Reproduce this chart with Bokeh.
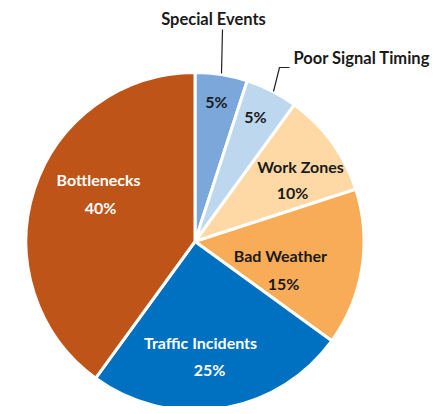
import numpy as np
from bokeh.plotting import figure
from bokeh.models import Range1d, ColumnDataSource
from bokeh.core.properties import value
from bokeh.embed import file_html
from bokeh.resources import INLINE

# ---- data ----
categories = ["Special Events", "Poor Signal Timing", "Work Zones",
              "Bad Weather", "Traffic Incidents", "Bottlenecks"]
shares = [5, 5, 10, 15, 25, 40]
colors = ["#7BA7DA", "#BDD7EE", "#FED9A6", "#F8AC58", "#0070C0", "#BF5418"]

# ---- layout (image pixel coords -> data coords) ----
W, H = 430, 406
def px(x): return x
def py(y): return H - y

cx, cy, R = px(194.5), py(241), 169

frac = np.array(shares, dtype=float) / sum(shares)
cum = np.concatenate([[0], np.cumsum(frac)])
start = np.pi / 2 - 2 * np.pi * cum[:-1]
end = np.pi / 2 - 2 * np.pi * cum[1:]

p = figure(width=W, height=H, output_backend="svg", toolbar_location=None,
           x_range=Range1d(0, W), y_range=Range1d(0, H), min_border=0)
p.axis.visible = False
p.grid.visible = False
p.outline_line_color = None
p.background_fill_color = "white"

src = ColumnDataSource(dict(start=start, end=end, color=colors))
p.wedge(x=cx, y=cy, radius=R, start_angle="start", end_angle="end",
        direction="clock", fill_color="color", line_color="white",
        line_width=3, source=src)

font = value("Lato")
name_pos = {"Work Zones": (300, 166), "Bad Weather": (280, 255),
            "Traffic Incidents": (200, 342), "Bottlenecks": (98, 179)}
pct_pos = [(216, 101), (255, 116), (292, 192), (283, 283), (209, 369), (100, 207)]
text_col = ["#1A1A1A", "#1A1A1A", "#1A1A1A", "#1A1A1A", "white", "white"]

for i, cat in enumerate(categories):
    x, y = pct_pos[i]
    p.text(x=[px(x)], y=[py(y)], text=[f"{shares[i]}%"], text_font=font,
           text_font_style="bold", text_font_size="16px", text_color=text_col[i],
           text_align="center", text_baseline="middle")
    if cat in name_pos:
        x, y = name_pos[cat]
        p.text(x=[px(x)], y=[py(y)], text=[cat], text_font=font,
               text_font_style="bold", text_font_size="16px", text_color=text_col[i],
               text_align="center", text_baseline="middle")

p.text(x=[px(213)], y=[py(18)], text=[categories[0]], text_font=font,
       text_font_style="bold", text_font_size="16.5px", text_color="#1A1A1A",
       text_align="center", text_baseline="middle")
p.text(x=[px(293)], y=[py(57)], text=[categories[1]], text_font=font,
       text_font_style="bold", text_font_size="16.5px", text_color="#1A1A1A",
       text_align="left", text_baseline="middle")
p.line(x=[px(222), px(221)], y=[py(29), py(73)], line_color="#222222", line_width=1.2)
p.line(x=[px(289), px(279), px(273)], y=[py(67), py(67), py(91)],
       line_color="#222222", line_width=1.2)

open("out.html", "w").write(file_html(p, INLINE))
